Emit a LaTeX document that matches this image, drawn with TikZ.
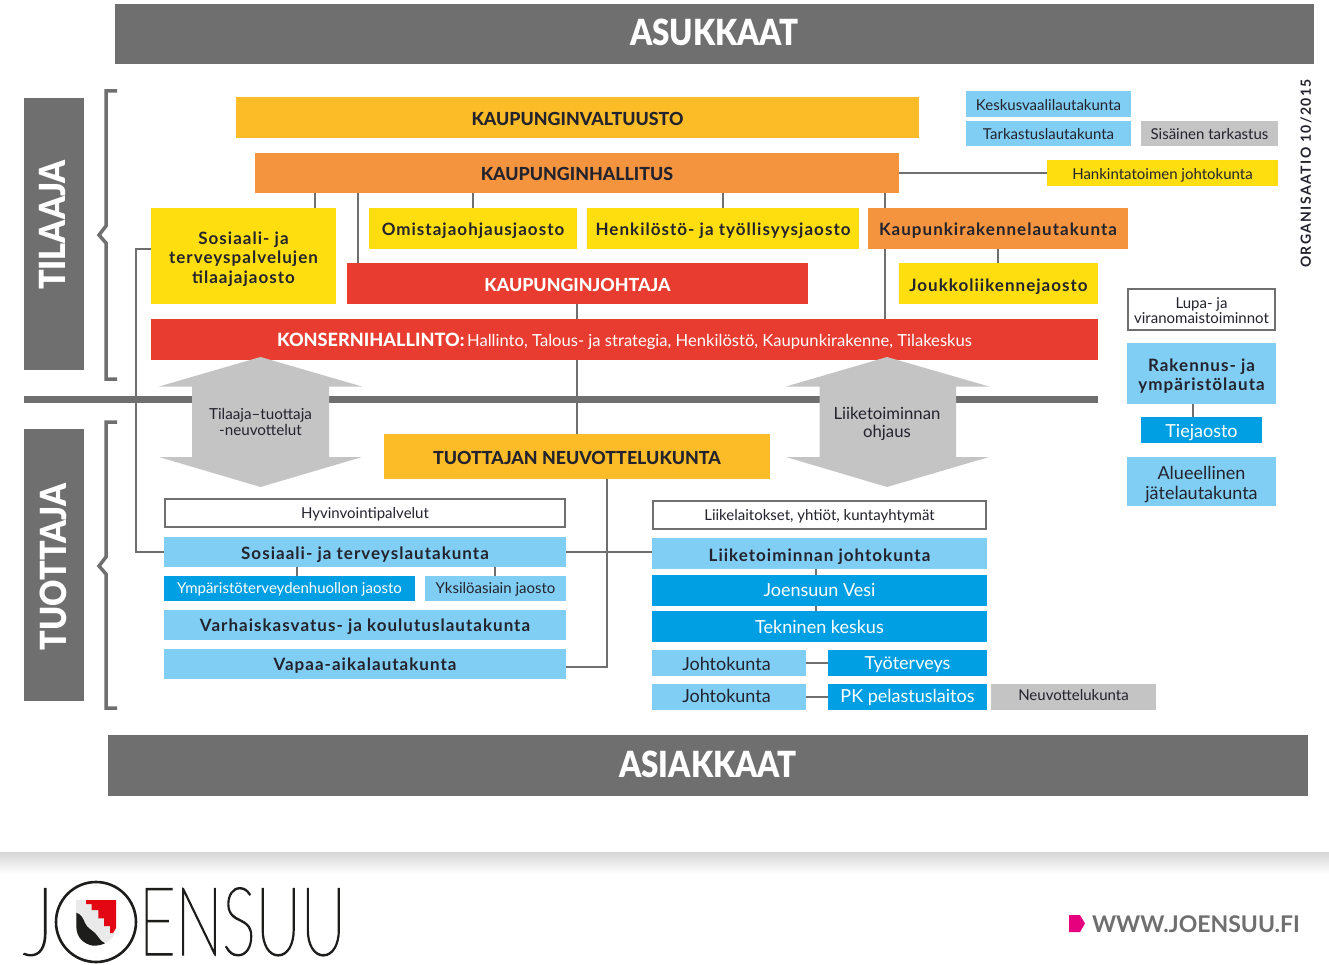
\documentclass[tikz,border=0pt]{standalone}
\usepackage{fontspec}
\setmainfont{Lato}
\newfontfamily\spf[LetterSpace=6]{Lato}
\newfontfamily\spg[LetterSpace=10]{Lato}
\newfontfamily\thinf[FakeStretch=0.66,FakeBold=1.5]{Lato Thin}
\newfontfamily\headf[FakeStretch=0.87]{Lato Black}
\newfontfamily\vertf[FakeStretch=0.9]{Lato Black}
\newfontfamily\ttlf[FakeStretch=0.99]{Lato Heavy}
\definecolor{gr}{HTML}{6F6F6F}
\definecolor{amber}{HTML}{FCBC28}
\definecolor{orng}{HTML}{F4943F}
\definecolor{yell}{HTML}{FFDE0F}
\definecolor{redd}{HTML}{E93C30}
\definecolor{lblue}{HTML}{81CEF5}
\definecolor{dblue}{HTML}{009FE3}
\definecolor{lgray}{HTML}{C4C4C4}
\definecolor{ink}{HTML}{23232D}
\definecolor{logok}{HTML}{1D1D1B}
\definecolor{logor}{HTML}{E30613}
\definecolor{logog}{HTML}{EAEAEA}
\definecolor{pinkk}{HTML}{E6007E}
\def\txs{0pt}
\tikzset{
 x=1pt,y=-1pt,
 tx/.code={\def\txs{#1}},
 bx/.style={inner sep=0pt,outer sep=0pt,align=center,anchor=center,text=ink,tx=0pt},
 head/.style={bx,fill=gr,text=white,tx=-1pt,font=\fontsize{36}{40}\headf},
 side/.style={bx,fill=gr},
 vert/.style={bx,text=white,rotate=90,font=\fontsize{36}{40}\vertf},
 ttl/.style={bx,tx=-3pt,font=\fontsize{18}{22}\ttlf},
 bld/.style={bx,tx=-3.5pt,font=\fontsize{17}{19.5}\spf\bfseries},
 pln/.style={bx,tx=-2pt,font=\fontsize{15}{17}\selectfont},
 pl2/.style={bx,tx=-2pt,font=\fontsize{18}{20}\selectfont},
 frame/.style={bx,tx=-2pt,draw=gr,line width=2pt,fill=white,font=\fontsize{15}{15}\selectfont},
 conn/.style={draw=gr,line width=2pt},
 brk/.style={draw=gr,line width=3.5pt,miter limit=10},
 harrow/.style={fill=lgray},
 logot/.style={bx,text=logok,font=\fontsize{95}{95}\thinf,anchor=base west},
}
\newcommand{\bxx}[7]{%
 \pgfmathsetmacro\bw{#5-#3}\pgfmathsetmacro\bh{#6-#4}%
 \pgfmathsetmacro\bcx{(#5+#3)/2}\pgfmathsetmacro\bcy{(#6+#4)/2}%
 \node[#2,minimum width=\bw pt,minimum height=\bh pt] (#1) at (\bcx,\bcy) {\raisebox{\dimexpr\txs-0.25em\relax}[0pt][0pt]{\begin{tabular}{@{}c@{}}#7\end{tabular}}};}
\begin{document}
\begin{tikzpicture}
\useasboundingbox (0,0) rectangle (1329,965);
\fill[white] (0,0) rectangle (1329,965);
% headers
\bxx{asukkaat}{head}{115}{4}{1314}{64}{ASUKKAAT}
\bxx{asiakkaat}{head}{108}{735}{1308}{796}{ASIAKKAAT}
\bxx{tilaajaS}{side}{24}{98}{84}{370}{}
\node[vert] (tilaajaT) at (53,225) {TILAAJA};
\bxx{tuottajaS}{side}{24}{429}{84}{701}{}
\node[vert] (tuottajaT) at (53,567) {TUOTTAJA};
% brackets
\draw[brk] (117,91) -- (106,91) -- (106,226) -- (99,235) -- (106,243) -- (106,379) -- (117,379);
\draw[brk] (117,422) -- (106,422) -- (106,557) -- (99,566) -- (106,574) -- (106,708) -- (117,708);
% divider
\fill[gr] (24,396) rectangle (1098,403);
% top boxes
\bxx{valt}{ttl,fill=amber}{236}{97}{919}{138}{KAUPUNGINVALTUUSTO}
\bxx{hall}{ttl,fill=orng}{255}{153}{899}{193}{KAUPUNGINHALLITUS}
\bxx{tila}{bld,fill=yell,tx=-4pt}{151}{208}{336}{304}{Sosiaali- ja\\terveyspalvelujen\\tilaajajaosto}
\bxx{omis}{bld,fill=yell}{369}{208}{577}{249}{Omistajaohjausjaosto}
\bxx{henk}{bld,fill=yell}{587}{208}{859}{249}{Henkilöstö- ja työllisyysjaosto}
\bxx{krak}{bld,fill=orng}{868}{208}{1128}{249}{Kaupunkirakennelautakunta}
\bxx{kjoht}{ttl,fill=redd,text=white}{347}{263}{808}{304}{KAUPUNGINJOHTAJA}
\bxx{joukko}{bld,fill=yell,tx=-4.5pt}{899}{263}{1098}{304}{Joukkoliikennejaosto}
\bxx{kons}{bx,fill=redd,text=white,tx=-2pt}{151}{319}{1098}{360}{{\fontsize{18.3}{22}\ttlf KONSERNIHALLINTO:} {\fontsize{16.6}{18}\selectfont Hallinto, Talous- ja strategia, Henkilöstö, Kaupunkirakenne, Tilakeskus}}
% right column
\bxx{kesk}{pln,fill=lblue,tx=-3pt}{966}{91}{1131}{117}{Keskusvaalilautakunta}
\bxx{tark}{pln,fill=lblue}{966}{121}{1131}{146}{Tarkastuslautakunta}
\bxx{sis}{pln,fill=lgray}{1141}{121}{1278}{146}{Sisäinen tarkastus}
\bxx{hank}{pln,fill=yell,tx=-3pt}{1047}{160}{1278}{186}{Hankintatoimen johtokunta}
\bxx{lupa}{frame,tx=-3pt}{1128}{289}{1275}{330}{Lupa- ja\\viranomaistoiminnot}
\bxx{rak}{bld,fill=lblue}{1127}{343}{1276}{404}{Rakennus- ja\\ympäristölauta}
\bxx{tie}{pl2,fill=dblue,text=white,tx=-3pt}{1141}{417}{1262}{443}{Tiejaosto}
\bxx{alue}{pl2,fill=lblue,tx=-4pt}{1127}{457}{1276}{506}{Alueellinen\\jätelautakunta}
\node[bx,rotate=90,font=\fontsize{14}{15}\spg\bfseries] (org) at (1306,173.5) {ORGANISAATIO 10/2015};
% double arrows
\fill[harrow] (260.5,357) -- (362,386.5) -- (329,386.5) -- (329,457) -- (362,457) -- (260.5,487) -- (159,457) -- (192,457) -- (192,386.5) -- (159,386.5) -- cycle;
\node[bx,font=\fontsize{15.2}{16}\selectfont] (neuv) at (260.5,422) {Tilaaja–tuottaja\\-neuvottelut};
\fill[harrow] (887,357) -- (989,386.5) -- (956,386.5) -- (956,457) -- (989,457) -- (887,487) -- (786,457) -- (819.5,457) -- (819.5,386.5) -- (786,386.5) -- cycle;
\node[bx,font=\fontsize{16.7}{18}\selectfont] (lt) at (887,424) {Liiketoiminnan\\ohjaus};
% lower
\bxx{tuot}{ttl,fill=amber}{384}{434}{770}{479}{TUOTTAJAN NEUVOTTELUKUNTA}
\bxx{hyv}{frame}{165}{499}{565}{527}{Hyvinvointipalvelut}
\bxx{sote}{bld,fill=lblue}{164}{537}{566}{567}{Sosiaali- ja terveyslautakunta}
\bxx{ymp}{pln,fill=dblue,text=white,tx=-1pt}{164}{576}{415}{601}{Ympäristöterveydenhuollon jaosto}
\bxx{yks}{pln,fill=lblue,tx=-1pt}{425}{576}{566}{601}{Yksilöasiain jaosto}
\bxx{varh}{bld,fill=lblue,tx=-2.5pt}{164}{610}{566}{640}{Varhaiskasvatus- ja koulutuslautakunta}
\bxx{vapaa}{bld,fill=lblue,tx=-2.5pt}{164}{649}{566}{679}{Vapaa-aikalautakunta}
\bxx{liik}{frame}{653}{501}{986}{529}{Liikelaitokset, yhtiöt, kuntayhtymät}
\bxx{ljoht}{bld,fill=lblue,tx=-4.5pt}{652}{538}{987}{569}{Liiketoiminnan johtokunta}
\bxx{vesi}{pl2,fill=dblue,text=white}{652}{575}{987}{606}{Joensuun Vesi}
\bxx{tekn}{pl2,fill=dblue,text=white,tx=-3pt}{652}{611}{987}{642}{Tekninen keskus}
\bxx{jk1}{pl2,fill=lblue,tx=-3pt}{652}{650}{806}{676}{Johtokunta\kern5pt}
\bxx{tyo}{pl2,fill=dblue,text=white}{828}{650}{987}{676}{Työterveys}
\bxx{jk2}{pl2,fill=lblue,tx=-1pt}{652}{684}{806}{710}{Johtokunta\kern5pt}
\bxx{pk}{pl2,fill=dblue,text=white,tx=-1pt}{828}{684}{987}{710}{PK pelastuslaitos}
\bxx{nk}{pln,fill=lgray,tx=0pt}{991}{684}{1156}{710}{Neuvottelukunta}
% connector columns
\coordinate (c315) at (315,0);
\coordinate (c358) at (358,0);
\coordinate (c473) at (473,0);
\coordinate (c723) at (723,0);
\coordinate (c885) at (885,0);
\coordinate (c577) at (577,0);
\coordinate (c998) at (998,0);
\coordinate (c1193) at (1193,0);
\coordinate (c297) at (297,0);
\coordinate (c495) at (495,0);
\coordinate (c816) at (816,0);
\coordinate (lk) at (136,249);
\coordinate (tb) at (607,667);
\draw[conn] (hall.south -| c315) -- (tila.north -| c315);
\draw[conn] (hall.south -| c358) -- (kjoht.north -| c358);
\draw[conn] (hall.south -| c473) -- (omis.north -| c473);
\draw[conn] (hall.south -| c723) -- (henk.north -| c723);
\draw[conn] (hall.south -| c885) -- (krak.north -| c885);
\draw[conn] (krak.south -| c885) -- (kons.north -| c885);
\draw[conn] (kjoht.south -| c577) -- (kons.north -| c577);
\draw[conn] (kons.south -| c577) -- (tuot.north -| c577);
\draw[conn] (hall.east) -- (hall.east -| hank.west);
\draw[conn] (krak.south -| c998) -- (joukko.north -| c998);
\draw[conn] (rak.south -| c1193) -- (tie.north -| c1193);
\draw[conn] (tila.west |- lk) -- (lk) -- (lk |- sote.west) -- (sote.west);
\draw[conn] (tuot.south -| tb) -- (tb) -- (vapaa.east |- tb);
\draw[conn] (sote.east) -- (sote.east -| ljoht.west);
\draw[conn] (sote.south -| c297) -- (ymp.north -| c297);
\draw[conn] (sote.south -| c495) -- (yks.north -| c495);
\draw[conn] (ljoht.south -| c816) -- (vesi.north -| c816);
\draw[conn] (vesi.south -| c816) -- (tekn.north -| c816);
\draw[conn] (jk1.east) -- (tyo.west);
\draw[conn] (jk2.east) -- (pk.west);
% footer
\shade[top color=black!16,bottom color=white] (0,852) rectangle (1329,874);
\node[logot] (logoJ) at (23,955) {\scalebox{1.21}[1]{J}};
\node[logot] (logoE) at (139,955) {ENSUU};
\draw[logok,line width=2.6pt] (96,922) circle (40);
\fill[logog] (76,900) -- (116,900) -- (116,928) .. controls (115,938) and (108,944) .. (96,945.7) .. controls (84,945) and (76,938) .. (76,925) -- cycle;
\fill[logor] (86,900) -- (116,900) -- (116,928) -- (113,933) -- (110,933) -- (110,926) -- (104,926) -- (104,918.3) -- (98.3,918.3) -- (98.3,910) -- (91.7,910) -- (91.7,904) -- (86,904) -- cycle;
\fill[logok] (76.3,912.7) .. controls (81,914) and (83,918) .. (85,923) .. controls (87,928) and (92,930) .. (95,933) .. controls (98,936) and (100,941) .. (105,943.3) .. controls (101,945) and (98,945.7) .. (93,945.7) .. controls (84,944) and (76.3,938) .. (76.3,926) -- cycle;
\fill[pinkk] (1069,915) -- (1080,915) -- (1085,923.5) -- (1080,932) -- (1069,932) -- cycle;
\node[bx,text=gr,font=\fontsize{23}{26}\selectfont\bfseries,anchor=base west] (web) at (1092,932) {WWW.JOENSUU.FI};
\end{tikzpicture}
\end{document}
